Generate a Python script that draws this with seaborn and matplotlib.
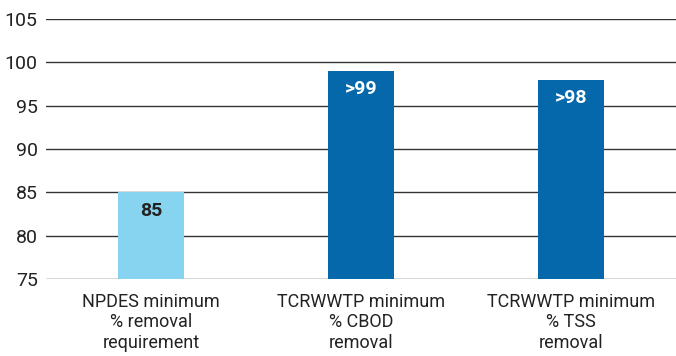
import matplotlib
matplotlib.use("Agg")
import matplotlib.pyplot as plt
import seaborn as sns
import pandas as pd

categories = ["NPDES minimum\n% removal\nrequirement",
              "TCRWWTP minimum\n% CBOD\nremoval",
              "TCRWWTP minimum\n% TSS\nremoval"]
values = [85, 99, 98]
bar_labels = ["85", ">99", ">98"]
bar_colors = ["#87D4F0", "#0568AB", "#0568AB"]
label_colors = ["#222222", "white", "white"]
y_ticks = [75, 80, 85, 90, 95, 100, 105]

sns.set_theme(style="white")
plt.rcParams['font.family'] = ['Roboto', 'DejaVu Sans']

df = pd.DataFrame({"cat": categories, "val": values})

fig = plt.figure(figsize=(6.76, 3.56), dpi=100)
ax = fig.add_axes([46/676, 1 - 279/356, 1 - 46/676, (279 - 19)/356])

sns.barplot(data=df, x="cat", y="val", hue="cat", palette=bar_colors,
            width=0.31, legend=False, ax=ax, zorder=3, saturation=1,
            linewidth=0, edgecolor="none")

ax.set_ylim(75, 105)
ax.set_xlim(-0.5, 2.5)
ax.set_yticks(y_ticks)
ax.grid(axis="y", color="#333333", linewidth=1.0, zorder=0)
ax.set_axisbelow(True)
for s in ["top", "right", "left", "bottom"]:
    ax.spines[s].set_visible(False)
ax.set_xlabel("")
ax.set_ylabel("")
ax.tick_params(axis="y", length=0, labelsize=14, colors="#222222", pad=6)
ax.tick_params(axis="x", length=0, pad=10, colors="#222222")
for lbl in ax.get_xticklabels():
    lbl.set_fontsize(13)
    lbl.set_linespacing(1.17)

for i, (v, t, c) in enumerate(zip(values, bar_labels, label_colors)):
    ax.text(i, v - 2.7, t, ha="center", va="baseline", fontsize=14,
            fontweight="bold", color=c, zorder=4)

fig.savefig("out.png", dpi=100)
